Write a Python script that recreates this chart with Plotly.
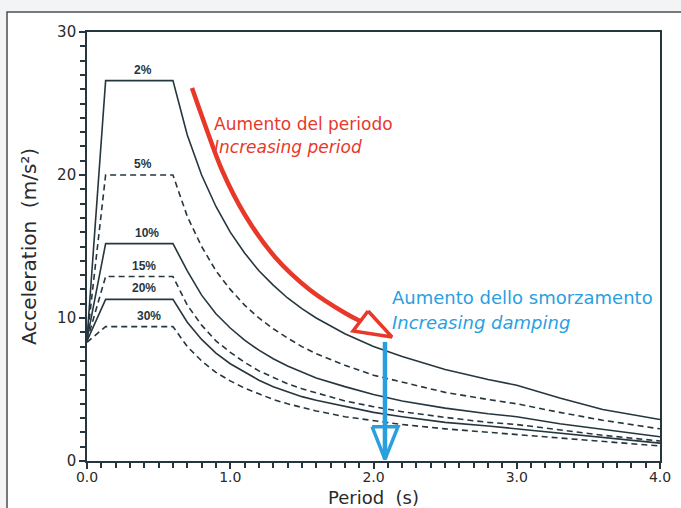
import plotly.graph_objects as go

# ---------------- data ----------------
periods = [0.0, 0.13, 0.6, 0.7, 0.8, 0.9, 1.0, 1.1, 1.2, 1.3, 1.4, 1.5, 1.6, 1.8, 2.0, 2.2, 2.5, 2.8, 3.0, 3.3, 3.6, 4.0]

acc_2 = [8.5, 26.6, 26.6, 22.8, 20.0, 17.8, 16.0, 14.55, 13.3, 12.3, 11.4, 10.65, 10.0, 8.9, 8.0, 7.3, 6.4, 5.7, 5.3, 4.4, 3.6, 2.9]
acc_5 = [8.5, 20.0, 20.0, 17.1, 15.0, 13.3, 12.0, 10.9, 10.0, 9.25, 8.6, 8.0, 7.5, 6.7, 6.0, 5.5, 4.8, 4.3, 4.0, 3.4, 2.85, 2.25]
acc_10 = [8.5, 15.2, 15.2, 13.3, 11.6, 10.3, 9.3, 8.45, 7.75, 7.15, 6.65, 6.2, 5.8, 5.2, 4.65, 4.2, 3.7, 3.3, 3.1, 2.6, 2.2, 1.7]
acc_15 = [8.4, 12.9, 12.9, 10.9, 9.5, 8.4, 7.6, 6.9, 6.3, 5.85, 5.4, 5.05, 4.75, 4.2, 3.8, 3.45, 3.05, 2.7, 2.55, 2.15, 1.8, 1.4]
acc_20 = [8.4, 11.3, 11.3, 9.7, 8.5, 7.55, 6.8, 6.2, 5.65, 5.2, 4.85, 4.5, 4.25, 3.8, 3.4, 3.1, 2.7, 2.45, 2.25, 1.9, 1.6, 1.25]
acc_30 = [8.3, 9.4, 9.4, 8.0, 7.0, 6.2, 5.6, 5.1, 4.7, 4.3, 4.0, 3.75, 3.5, 3.1, 2.8, 2.55, 2.25, 2.0, 1.85, 1.6, 1.35, 1.05]

damping_labels = ["2%", "5%", "10%", "15%", "20%", "30%"]
label_period = [0.39, 0.39, 0.42, 0.40, 0.40, 0.43]

# decorative arrows (data coordinates)
red_arc_T = [0.733, 0.824, 0.942, 1.103, 1.312, 1.557, 1.801, 1.906]
red_arc_A = [26.08, 23.5, 20.35, 17.2, 14.27, 11.96, 10.35, 9.79]
red_head_T = [1.962, 1.857, 2.129, 1.962]
red_head_A = [10.49, 9.09, 8.67, 10.49]
blue_shaft_T = [2.08, 2.08]
blue_shaft_A = [8.32, 0.15]
blue_head_T = [1.99, 2.171, 2.08, 1.99]
blue_head_A = [2.4, 2.4, 0.12, 2.4]

# ---------------- styling ----------------
INK = "#26363f"
RED = "#e8382a"
BLUE = "#2a9fe0"
FONT = "DejaVu Sans, Liberation Sans, Arial, sans-serif"

series = [
    (acc_2, "solid"),
    (acc_5, "6px,4px"),
    (acc_10, "solid"),
    (acc_15, "6px,4px"),
    (acc_20, "solid"),
    (acc_30, "6px,4px"),
]

fig = go.Figure()

for (vals, dash), name in zip(series, damping_labels):
    fig.add_trace(go.Scatter(
        x=periods, y=vals, mode="lines", name=name,
        line=dict(color=INK, width=1.6, dash=dash),
        hoverinfo="x+y+name", showlegend=False,
    ))

# red curved arrow
fig.add_trace(go.Scatter(x=red_arc_T, y=red_arc_A, mode="lines",
                         line=dict(color=RED, width=4.5, shape="spline"),
                         hoverinfo="skip", showlegend=False))
fig.add_trace(go.Scatter(x=red_head_T, y=red_head_A, mode="lines", fill="toself",
                         fillcolor="white", line=dict(color=RED, width=3.5),
                         hoverinfo="skip", showlegend=False))
# blue arrow
fig.add_trace(go.Scatter(x=blue_shaft_T, y=blue_shaft_A, mode="lines",
                         line=dict(color=BLUE, width=4.5),
                         hoverinfo="skip", showlegend=False))
fig.add_trace(go.Scatter(x=blue_head_T, y=blue_head_A, mode="lines",
                         line=dict(color=BLUE, width=3.5),
                         hoverinfo="skip", showlegend=False))

# damping labels on the plateaus
plateaus = [v[1] for v, _ in series]
for lab, t, a in zip(damping_labels, label_period, plateaus):
    fig.add_annotation(x=t, y=a, text="<b>" + lab + "</b>", showarrow=False,
                       yanchor="bottom", yshift=2,
                       font=dict(family="Liberation Sans, Arial, sans-serif", size=12, color=INK))

# explanatory texts
fig.add_annotation(x=0.873, y=23.57, text="Aumento del periodo", showarrow=False,
                   xanchor="left", yanchor="middle", font=dict(family=FONT, size=17, color=RED))
fig.add_annotation(x=0.873, y=21.96, text="<i>Increasing period</i>", showarrow=False,
                   xanchor="left", yanchor="middle", font=dict(family=FONT, size=17, color=RED))
fig.add_annotation(x=2.115, y=11.4, text="Aumento dello smorzamento", showarrow=False,
                   xanchor="left", yanchor="middle", font=dict(family=FONT, size=18, color=BLUE))
fig.add_annotation(x=2.115, y=9.7, text="<i>Increasing damping</i>", showarrow=False,
                   xanchor="left", yanchor="middle", font=dict(family=FONT, size=18, color=BLUE))

# white panel with border behind everything
fig.add_shape(type="rect", xref="paper", yref="paper",
              x0=-0.1396, x1=1.06, y0=-0.14, y1=1.0466,
              fillcolor="white", line=dict(color="#4d4d4d", width=1.5), layer="below")

fig.update_layout(
    xaxis=dict(
        range=[0, 4], dtick=1, tickformat=".1f",
        showline=True, linecolor=INK, linewidth=1.6, mirror=True,
        showgrid=False, zeroline=False,
        ticks="outside", tickcolor=INK, tickwidth=2, ticklen=6,
        minor=dict(ticks="outside", dtick=0.1, ticklen=5, tickcolor=INK, tickwidth=2),
        ticklabelstandoff=-4,
        tickfont=dict(family=FONT, size=14, color="#2a2a2a"),
        title=dict(text="Period\u00a0\u00a0(s)",
                   font=dict(family=FONT, size=18, color="#2a2a2a")),
    ),
    yaxis=dict(
        range=[0, 30], dtick=10,
        showline=True, linecolor=INK, linewidth=1.6, mirror=True,
        showgrid=False, zeroline=False,
        ticks="outside", tickcolor=INK, tickwidth=2, ticklen=6,
        minor=dict(ticks="outside", dtick=1, ticklen=5, tickcolor=INK, tickwidth=2),
        tickfont=dict(family=FONT, size=15, color="#2a2a2a"),
        title=dict(text="Acceleration\u00a0\u00a0(m/s²)",
                   font=dict(family=FONT, size=20, color="#2a2a2a")),
    ),
    width=681, height=508,
    margin=dict(l=87, r=21, t=32, b=47, autoexpand=False),
    paper_bgcolor="#f3f4f6", plot_bgcolor="white",
    showlegend=False,
)

fig.write_html("out.html", config={"displayModeBar": False},
               post_script="document.body.style.margin='0';")
